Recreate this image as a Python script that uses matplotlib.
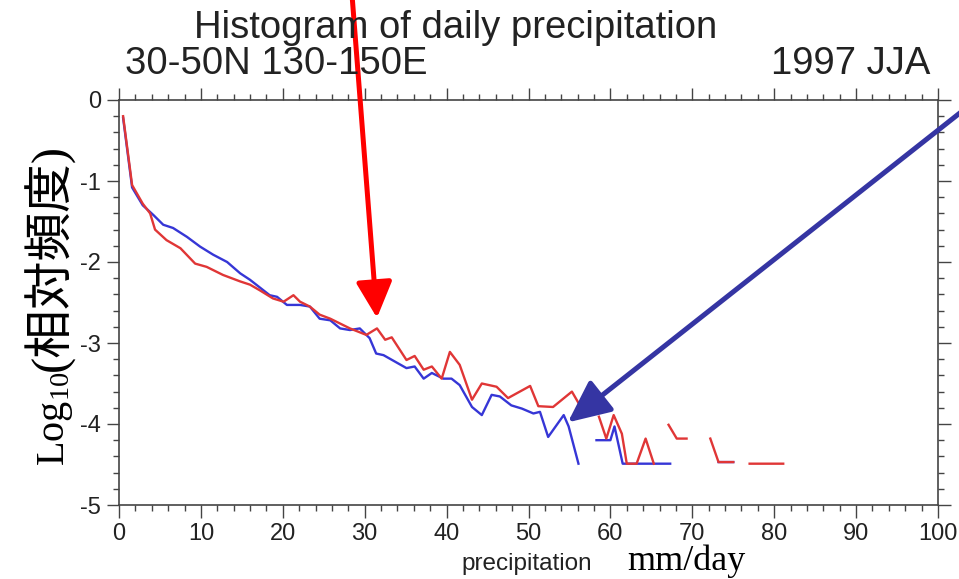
import numpy as np
import matplotlib
matplotlib.use("Agg")
import matplotlib.pyplot as plt
from matplotlib.ticker import MultipleLocator

plt.rcParams["font.family"] = ["Liberation Sans", "DejaVu Sans"]
plt.rcParams["mathtext.fontset"] = "custom"
plt.rcParams["mathtext.rm"] = "Liberation Serif"
plt.rcParams["mathtext.it"] = "Liberation Serif:italic"
plt.rcParams["axes.unicode_minus"] = False

nan = np.nan

# log10 relative frequency per precipitation bin (mm/day); nan = empty bin
blue_x = [0.5, 1.6, 2.9, 4.2, 5.4, 6.6, 8.3, 9.9, 11.5, 13.2, 14.8, 16.0, 18.4,
          19.3, 20.5, 22.1, 23.3, 24.5, 25.8, 27.0, 28.2, 29.4, 30.6, 31.4,
          32.3, 35.1, 36.1, 37.2, 38.2, 39.6, 40.6, 41.6, 43.1, 44.3, 45.5,
          46.5, 47.9, 49.2, 50.6, 51.4, 52.4, 54.3, 54.9, 56.1, 57.2, 58.3,
          60.0, 60.5, 61.5, 67.3, 70.0, 73.2, 75.0]
blue_y = [-0.22, -1.08, -1.30, -1.42, -1.54, -1.58, -1.69, -1.81, -1.91, -2.00,
          -2.14, -2.22, -2.41, -2.43, -2.53, -2.53, -2.55, -2.70, -2.72, -2.82,
          -2.84, -2.82, -2.94, -3.13, -3.15, -3.31, -3.29, -3.44, -3.37, -3.44,
          -3.44, -3.52, -3.79, -3.89, -3.64, -3.66, -3.77, -3.81, -3.87, -3.85,
          -4.16, -3.89, -4.03, -4.49, nan, -4.20, -4.20, -4.03, -4.49, -4.49,
          nan, -4.47, -4.47]

red_x = [0.5, 1.6, 2.9, 3.8, 4.4, 5.8, 7.5, 9.3, 10.7, 12.7, 14.8, 16.0, 17.2,
         18.8, 20.1, 21.3, 22.1, 23.3, 24.5, 25.8, 27.0, 28.2, 30.2, 31.5,
         32.5, 33.3, 35.1, 36.1, 37.2, 38.2, 39.4, 40.4, 41.6, 43.1, 44.3,
         46.1, 47.5, 50.2, 51.2, 53.0, 55.3, 56.1, 57.3, 58.6, 59.5, 60.4,
         61.4, 62.0, 63.2, 64.3, 65.3, 66.2, 67.1, 68.1, 69.3, 70.7, 72.2,
         73.2, 75.0, 76.0, 77.0, 81.1]
red_y = [-0.20, -1.05, -1.28, -1.40, -1.60, -1.73, -1.83, -2.02, -2.06, -2.16,
         -2.24, -2.28, -2.35, -2.45, -2.49, -2.41, -2.49, -2.55, -2.65, -2.70,
         -2.76, -2.82, -2.90, -2.82, -2.96, -2.93, -3.21, -3.16, -3.33, -3.29,
         -3.44, -3.11, -3.27, -3.70, -3.50, -3.54, -3.68, -3.53, -3.78, -3.79,
         -3.60, -3.74, nan, -3.91, -4.18, -3.89, -4.12, -4.49, -4.49, -4.18,
         -4.49, nan, -4.01, -4.18, -4.18, nan, -4.18, -4.47, -4.47, nan,
         -4.49, -4.49]

x_ticks = [0, 10, 20, 30, 40, 50, 60, 70, 80, 90, 100]
y_ticks = [0, -1, -2, -3, -4, -5]

W, H = 959, 579
fig = plt.figure(figsize=(W / 100, H / 100), dpi=100)
ax = fig.add_axes([119 / W, 1 - 505 / H, (938 - 119) / W, (505 - 100) / H])

ax.plot(blue_x, blue_y, color="#3636d6", lw=1.7)
ax.plot(red_x, red_y, color="#e03636", lw=1.7)

ax.set_xlim(0, 100)
ax.set_ylim(-5, 0)
ax.set_xticks(x_ticks)
ax.set_yticks(y_ticks)
ax.xaxis.set_minor_locator(MultipleLocator(2))
ax.yaxis.set_minor_locator(MultipleLocator(0.2))
ax.tick_params(which="both", direction="out", top=True, right=True,
               color="#444444", width=1.0)
ax.tick_params(which="major", length=9, labelsize=17, labelcolor="#222222",
               pad=4)
ax.tick_params(which="minor", length=4.5)
for sp in ax.spines.values():
    sp.set_color("#444444")
    sp.set_linewidth(1.2)

# titles
fig.text(456 / W, 1 - 38 / H, "Histogram of daily precipitation",
         fontsize=27.5, ha="center", va="baseline", color="#222222")
fig.text(125 / W, 1 - 74 / H, "30-50N 130-150E", fontsize=27.5,
         ha="left", va="baseline", color="#222222")
fig.text(930 / W, 1 - 74 / H, "1997 JJA", fontsize=27.5,
         ha="right", va="baseline", color="#222222")

# x label: two fonts side by side
fig.text(527 / W, 1 - 570 / H, "precipitation", fontsize=17.5,
         ha="center", va="baseline", color="#222222")
fig.text(627 / W, 1 - 570 / H, "mm/day", fontsize=26,
         family="Liberation Serif", ha="left", va="baseline", color="black")

# y label: mathtext part, then the CJK part stacked right after it
ylab1 = fig.text(64 / W, 1 - 466 / H, "Log$_{10}$", fontsize=29,
                 family="Liberation Serif", rotation=90,
                 rotation_mode="anchor", ha="left", va="baseline",
                 color="black")
fig.canvas.draw()
bb = ylab1.get_window_extent()
fig.text(64 / W, (bb.y1 + 1) / H, "(相対頻度)", fontsize=35,
         family=["Liberation Serif", "Noto Sans CJK JP"], rotation=90,
         rotation_mode="anchor", ha="left", va="baseline", color="black")

# pointer arrows
ax.annotate("", xy=(31.5, -2.69), xytext=(28.45, 1.3), xycoords="data",
            textcoords="data", annotation_clip=False,
            arrowprops=dict(arrowstyle="-|>,head_length=1.1,head_width=0.55",
                            mutation_scale=20, color="#ff0000", lw=3.6,
                            shrinkA=0, shrinkB=0))
ax.annotate("", xy=(54.8, -3.98), xytext=(102.8, -0.15), xycoords="data",
            textcoords="data", annotation_clip=False,
            arrowprops=dict(arrowstyle="-|>,head_length=1.3,head_width=0.6",
                            mutation_scale=20, color="#3535a3", lw=3.6,
                            shrinkA=0, shrinkB=0))

fig.savefig("out.png", dpi=100)
